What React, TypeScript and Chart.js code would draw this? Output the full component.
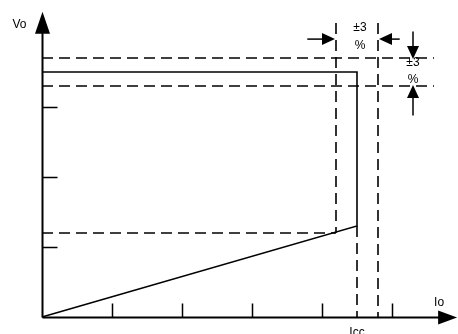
import React, { useEffect, useRef } from "react";
import { Chart, registerables } from "chart.js";

Chart.register(...registerables);

// Axis tick positions (no labels)
const xTicks = [1, 2, 3, 4, 5];
const yTicks = [1, 2, 3];

// Output characteristic (Io, Vo)
const curveI = [0, 4.5, 4.5, 0];
const curveV = [3.5, 3.5, 1.3, 0];

// Tolerance band on Vo (±3 %)
const vUpper = 3.7;
const vLower = 3.3;
const bandEnd = 5.6;

// Tolerance band on Icc (±3 %)
const iLeft = 4.2;
const iRight = 4.8;
const icc = 4.5;
const iTop = 4.2;
const vShort = 1.3;
const vKnee = 1.2;

// Axis extents
const xMax = 5.9;
const yMax = 4.5;
const xArrowTip = 5.93;
const yArrowTip = 4.36;

// Annotation arrows
const hArrowY = 3.97;
const hArrowLeftFrom = 3.79;
const hArrowRightFrom = 5.11;
const vArrowX = 5.3;
const vArrowTopFrom = 4.08;
const vArrowBottomFrom = 2.88;

const labels = { vo: "Vo", io: "Io", icc: "Icc", pm: "±3", pct: "%" };

function seg(x0: number, y0: number, x1: number, y1: number) {
  return [
    { x: x0, y: y0 },
    { x: x1, y: y1 },
  ];
}

export default function App() {
  const ref = useRef<HTMLCanvasElement | null>(null);

  useEffect(() => {
    document.body.style.margin = "0";
    const canvas = ref.current;
    if (!canvas) return;

    const dash = [11, 6];
    const base = {
      showLine: true,
      pointRadius: 0,
      borderColor: "#000",
      borderWidth: 1.6,
      fill: false,
      tension: 0,
      clip: false as any,
    };

    const overlay = {
      id: "overlay",
      afterDatasetsDraw(chart: any) {
        const ctx = chart.ctx as CanvasRenderingContext2D;
        const xs = chart.scales.x;
        const ys = chart.scales.y;
        const px = (v: number) => xs.getPixelForValue(v);
        const py = (v: number) => ys.getPixelForValue(v);
        const x0 = px(0) + 0.5;
        const y0 = py(0) + 0.5;
        ctx.save();
        ctx.strokeStyle = "#000";
        ctx.fillStyle = "#000";
        // axes
        ctx.lineWidth = 2;
        ctx.beginPath();
        ctx.moveTo(x0, y0);
        ctx.lineTo(x0, py(yArrowTip) + 10);
        ctx.moveTo(x0, y0);
        ctx.lineTo(px(xArrowTip) - 10, y0);
        ctx.stroke();
        // axis arrowheads
        const yt = py(yArrowTip);
        ctx.beginPath();
        ctx.moveTo(x0, yt);
        ctx.lineTo(x0 - 7.5, yt + 22);
        ctx.lineTo(x0 + 7.5, yt + 22);
        ctx.closePath();
        ctx.fill();
        const xt = px(xArrowTip);
        ctx.beginPath();
        ctx.moveTo(xt, y0);
        ctx.lineTo(xt - 19, y0 - 7);
        ctx.lineTo(xt - 19, y0 + 7);
        ctx.closePath();
        ctx.fill();
        // inward ticks
        ctx.lineWidth = 1.5;
        ctx.beginPath();
        xTicks.forEach((t) => {
          const p = Math.round(px(t)) + 0.5;
          ctx.moveTo(p, y0);
          ctx.lineTo(p, y0 - 14);
        });
        yTicks.forEach((t) => {
          const p = Math.round(py(t)) + 0.5;
          ctx.moveTo(x0, p);
          ctx.lineTo(x0 + 15, p);
        });
        ctx.stroke();

        // annotation arrows
        const arrow = (ax: number, ay: number, bx: number, by: number) => {
          const ang = Math.atan2(by - ay, bx - ax);
          const L = 13;
          const W = 6;
          const hx = bx - L * Math.cos(ang);
          const hy = by - L * Math.sin(ang);
          ctx.lineWidth = 1.5;
          ctx.beginPath();
          ctx.moveTo(ax, ay);
          ctx.lineTo(hx, hy);
          ctx.stroke();
          ctx.beginPath();
          ctx.moveTo(bx, by);
          ctx.lineTo(hx - W * Math.sin(ang), hy + W * Math.cos(ang));
          ctx.lineTo(hx + W * Math.sin(ang), hy - W * Math.cos(ang));
          ctx.closePath();
          ctx.fill();
        };
        const hy = py(hArrowY);
        arrow(px(hArrowLeftFrom), hy, px(iLeft) - 1, hy);
        arrow(px(hArrowRightFrom), hy, px(iRight) + 1, hy);
        const vx = px(vArrowX);
        arrow(vx, py(vArrowTopFrom), vx, py(vUpper) + 1);
        arrow(vx, py(vArrowBottomFrom), vx, py(vLower) - 1);

        // texts
        ctx.font = "12px 'Liberation Sans', Arial, sans-serif";
        ctx.textBaseline = "middle";
        ctx.textAlign = "left";
        ctx.fillText(labels.vo, x0 - 30, py(yArrowTip) + 13);
        ctx.fillText(labels.io, px(xArrowTip) - 23, y0 - 15);
        ctx.textAlign = "center";
        ctx.fillText(labels.icc, px(icc), y0 + 15);
        ctx.fillText(labels.pm, px(icc) + 3, py(hArrowY) - 11);
        ctx.fillText(labels.pct, px(icc) + 3, py(hArrowY) + 7);
        ctx.fillText(labels.pm, vx, py(vUpper) + 5);
        ctx.fillText(labels.pct, vx, py(vLower) - 6);
        ctx.restore();
      },
    };

    const chart = new Chart(canvas, {
      type: "scatter",
      data: {
        datasets: [
          { ...base, data: curveI.map((x, i) => ({ x, y: curveV[i] })) },
          { ...base, borderDash: dash, data: seg(0, vUpper, bandEnd, vUpper) },
          { ...base, borderDash: dash, data: seg(0, vLower, bandEnd, vLower) },
          { ...base, borderDash: dash, data: seg(0, vKnee, iLeft, vKnee) },
          { ...base, borderDash: dash, data: seg(iLeft, iTop, iLeft, vKnee) },
          { ...base, borderDash: dash, data: seg(iRight, iTop, iRight, 0) },
          { ...base, borderDash: dash, data: seg(icc, vShort, icc, 0) },
        ] as any,
      },
      options: {
        responsive: false,
        animation: false,
        devicePixelRatio: 1,
        layout: { padding: { left: 42, right: 3, top: 2, bottom: 17 } },
        scales: {
          x: { type: "linear", min: 0, max: xMax, display: false },
          y: { type: "linear", min: 0, max: yMax, display: false },
        },
        plugins: { legend: { display: false }, tooltip: { enabled: false } },
        events: [],
      },
      plugins: [overlay],
    });
    return () => chart.destroy();
  }, []);

  return (
    <canvas
      ref={ref}
      width={458}
      height={334}
      style={{ display: "block", width: 458, height: 334 }}
    />
  );
}
